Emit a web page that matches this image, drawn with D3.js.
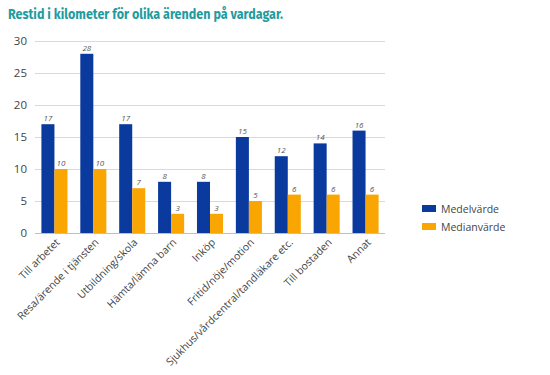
<!DOCTYPE html>
<html><head><meta charset="utf-8">
<script src="https://cdn.jsdelivr.net/npm/d3@7"></script>
<style>body{margin:0;background:#fff;} svg{display:block;}</style>
</head><body>
<svg id="c" width="550" height="375"></svg>
<script>
const categories = ["Till arbetet","Resa/ärende i tjänsten","Utbildning/skola","Hämta/lämna barn","Inköp","Fritid/nöje/motion","Sjukhus/vårdcentral/tandläkare etc.","Till bostaden","Annat"];
const seriesNames = ["Medelvärde","Medianvärde"];
const medel = [17,28,17,8,8,15,12,14,16];
const median = [10,10,7,3,3,5,6,6,6];
const yTicks = [0,5,10,15,20,25,30];
const colors = ["#0a3a9e","#f9a602"];
const font = "'Open Sans', 'Noto Sans', sans-serif";

const svg = d3.select("#c");
const m = {l:35, r:165, t:41, b:142};
const W = 550, H = 375;
const x0 = d3.scaleBand().domain(categories).range([m.l, W-m.r]).paddingInner(0.33).paddingOuter(0.165);
const x1 = d3.scaleBand().domain(seriesNames).range([0, x0.bandwidth()]);
const y = d3.scaleLinear().domain([0,30]).range([H-m.b, m.t]);

svg.append("text").attr("x",8).attr("y",19).text("Restid i kilometer för olika ärenden på vardagar.")
  .attr("font-family","'Fira Sans', 'Open Sans', sans-serif").attr("font-weight","bold").attr("font-size",13.5).attr("fill","#1f9ba0")
  .attr("textLength",275).attr("lengthAdjust","spacingAndGlyphs");

// grid
const gy = svg.append("g").attr("transform",`translate(${m.l},0)`)
  .call(d3.axisLeft(y).tickValues(yTicks).tickSize(-(W-m.l-m.r)).tickPadding(8));
gy.select(".domain").remove();
gy.selectAll(".tick line").attr("stroke","#d9d9d9");
gy.selectAll(".tick text").attr("font-family",font).attr("font-size",11.5).attr("fill","#444");
gy.selectAll(".tick").filter(d=>d===0).select("line").attr("stroke","#bfbfbf");

const data = categories.map((c,i)=>({c, vals:[medel[i], median[i]]}));
const g = svg.append("g");
data.forEach(d=>{
  d.vals.forEach((v,j)=>{
    const xx = x0(d.c)+x1(seriesNames[j]);
    g.append("rect").attr("x",xx).attr("y",y(v)).attr("width",x1.bandwidth()).attr("height",y(0)-y(v)).attr("fill",colors[j]);
    g.append("text").attr("x",xx+x1.bandwidth()/2).attr("y",y(v)-3).attr("text-anchor","middle")
      .attr("font-family",font).attr("font-style","italic").attr("font-size",8).attr("fill","#555").text(v);
  });
});

// x labels
const gx = svg.append("g").attr("transform",`translate(0,${y(0)})`)
  .call(d3.axisBottom(x0).tickSize(0).tickPadding(0));
gx.select(".domain").remove();
gx.selectAll(".tick text").attr("font-family",font).attr("font-size",10.5).attr("fill","#444")
  .attr("text-anchor","end").attr("dy",0).attr("transform","translate(6,10) rotate(-45)");

// legend
const lg = svg.append("g").attr("transform","translate(422,205)");
seriesNames.forEach((s,i)=>{
  lg.append("rect").attr("x",0).attr("y",i*18).attr("width",14).attr("height",7).attr("fill",colors[i]);
  lg.append("text").attr("x",19).attr("y",i*18+7.5).text(s).attr("font-family",font).attr("font-size",10.5).attr("fill","#444");
});
</script>
</body></html>
